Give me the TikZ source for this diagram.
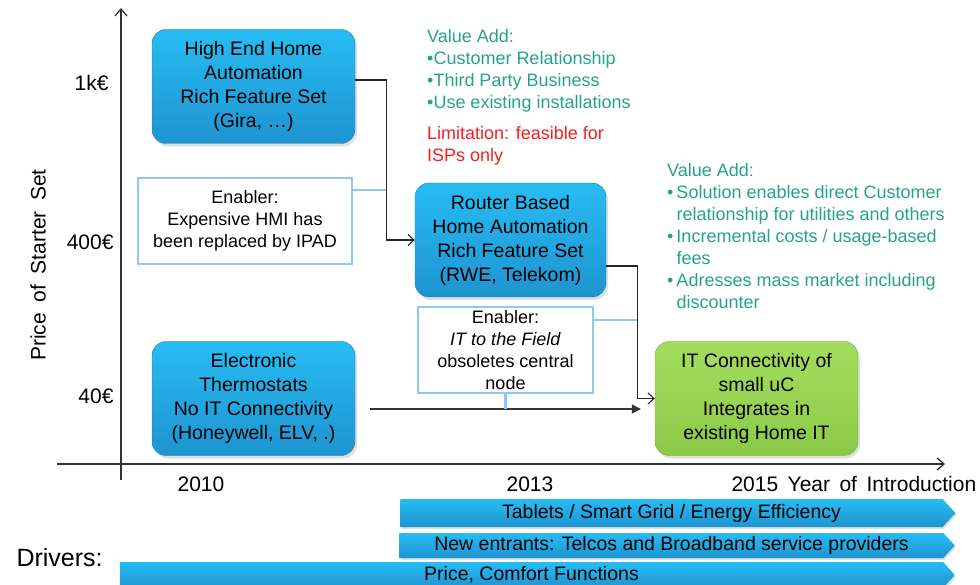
\documentclass[tikz,border=0pt]{standalone}
\usepackage{fontspec}
\setmainfont{Liberation Sans}
\usepackage{tikz}
\usetikzlibrary{shapes, shapes.symbols, arrows.meta, positioning, shadows, calc}
\definecolor{boxtop}{RGB}{40,188,244}
\definecolor{boxbot}{RGB}{30,148,208}
\definecolor{greentop}{RGB}{163,221,94}
\definecolor{greenbot}{RGB}{141,201,72}
\definecolor{rimblue}{RGB}{141,199,245}
\definecolor{valueteal}{RGB}{38,163,135}
\definecolor{limitred}{RGB}{245,30,30}
\tikzset{
    block/.style={rectangle, rounded corners=14pt, top color=boxtop, bottom color=boxbot, draw=boxbot!85!black, thin, align=center, inner sep=2pt, minimum width=203pt, minimum height=114pt, font=\fontsize{19.5}{24}\selectfont, drop shadow={opacity=0.25, shadow xshift=2pt, shadow yshift=-3pt}},
    target/.style={block, top color=greentop, bottom color=greenbot, draw=greenbot!85!black},
    enabler/.style={rectangle, draw=rimblue, line width=2.5pt, fill=white, align=center, font=\fontsize{18}{22}\selectfont},
    note/.style={align=left, inner sep=0pt, text=valueteal, font=\fontsize{18}{22}\selectfont},
    driver/.style={signal, signal to=east, signal pointer angle=95, top color=boxtop, bottom color=boxbot, inner sep=0pt, font=\fontsize{19.5}{23}\selectfont, drop shadow={opacity=0.25, shadow xshift=1pt, shadow yshift=-2pt}},
    tick/.style={font=\fontsize{21}{24}\selectfont},
    axis/.style={line width=1.3pt, black!80, -{Straight Barb[length=7pt, width=12pt]}},
    link/.style={line width=1.1pt, black!85, -{Straight Barb[length=6pt, width=11pt]}},
    push/.style={line width=1.3pt, black!80, -{Triangle[length=9pt, width=9pt]}},
    tether/.style={line width=2.5pt, rimblue}
}
\begin{document}
\begin{tikzpicture}[x=1pt, y=-1pt]
    \useasboundingbox (0,0) rectangle (980,585);

    % Axes
    \coordinate (origin) at (121,464);
    \draw [axis] (121,480) -- (121,8);
    \draw [axis] (57,464) -- (945,464);
    \node (pricelabel) [tick, rotate=90] at (38,265) {Price\hspace{0.5em}of\hspace{0.5em}Starter\hspace{0.5em}Set};
    \node (ptop) [tick, anchor=east] at (112,83) {1k€};
    \node (pmid) [tick, anchor=east] at (117,242) {400€};
    \node (plow) [tick, anchor=east] at (117,396) {40€};
    \node (yrA) [tick] at (201,484) {2010};
    \node (yrB) [tick] at (530,484) {2013};
    \node (yrC) [tick, anchor=west] at (728,484) {2015\hspace{0.45em}Year\hspace{0.45em}of\hspace{0.45em}Introduction};

    % Products
    \node (gira) [block] at (253.5,86.5) {High End Home\\Automation\\Rich Feature Set\\(Gira, …)};
    \node (router) [block, minimum width=191pt] at (510.5,240) {Router Based\\Home Automation\\Rich Feature Set\\(RWE, Telekom)};
    \node (thermo) [block] at (253.5,398.5) {Electronic\\Thermostats\\No IT Connectivity\\(Honeywell, ELV, .)};
    \node (itconn) [target] at (756.5,398.5) {IT Connectivity of\\small uC\\Integrates in\\existing Home IT};

    % Enablers
    \node (enabA) [enabler, minimum width=214pt, minimum height=86pt] at (245,221) {Enabler:\\Expensive HMI has\\been replaced by IPAD};
    \node (enabB) [enabler, minimum width=175pt, minimum height=84pt] at (505.5,350) {Enabler:\\\textit{IT to the Field}\\obsoletes central\\node};

    % Value add notes
    \node (valueA) [note, anchor=north west] at (427,29) {Value Add:\\•Customer Relationship\\•Third Party Business\\•Use existing installations};
    \node (limit) [note, text=limitred, below=14pt of valueA.south west, anchor=north west] {Limitation: feasible for\\ISPs only};
    \node (valueB) [note, anchor=north west] at (667,163) {Value Add:\\•\hspace{3pt}Solution enables direct Customer\\\hphantom{•}\hspace{3pt}relationship for utilities and others\\•\hspace{3pt}Incremental costs / usage-based\\\hphantom{•}\hspace{3pt}fees\\•\hspace{3pt}Adresses mass market including\\\hphantom{•}\hspace{3pt}discounter};

    % Flows
    \draw [link] ([yshift=6.5pt]gira.east) -- ++(31,0) coordinate (kneeA) |- (router.west);
    \draw [link] ([yshift=-26pt]router.east) -- ++(31,0) coordinate (kneeB) |- (itconn.west);
    \coordinate (pushA) at ([xshift=15pt, yshift=-10.5pt]thermo.east);
    \coordinate (pushB) at ([xshift=-14pt, yshift=-10.5pt]itconn.west);
    \draw [push] (pushA) -- (pushB);

    % Enabler ties
    \coordinate (tieA) at ([yshift=31pt]enabA.east);
    \coordinate (tieB) at ([yshift=30pt]enabB.east);
    \draw [tether] (tieA) -- (tieA -| kneeA);
    \draw [tether] (tieB) -- (tieB -| kneeB);
    \draw [tether] (enabB.south) -- (enabB.south |- pushA);

    % Drivers
    \node (drivers) [anchor=west, font=\fontsize{25}{28}\selectfont] at (13,558) {Drivers:};
    \node (drvA) [driver, minimum width=555pt, minimum height=28pt] at (671.5,513) {Tablets / Smart Grid / Energy Efficiency};
    \node (drvB) [driver, minimum width=555pt, minimum height=25pt] at (671.5,545.5) {New entrants: Telcos and Broadband service providers};
    \node (drvC) [driver, minimum width=835pt, minimum height=26pt] at (531.5,575) {Price, Comfort Functions};

\end{tikzpicture}
\end{document}
